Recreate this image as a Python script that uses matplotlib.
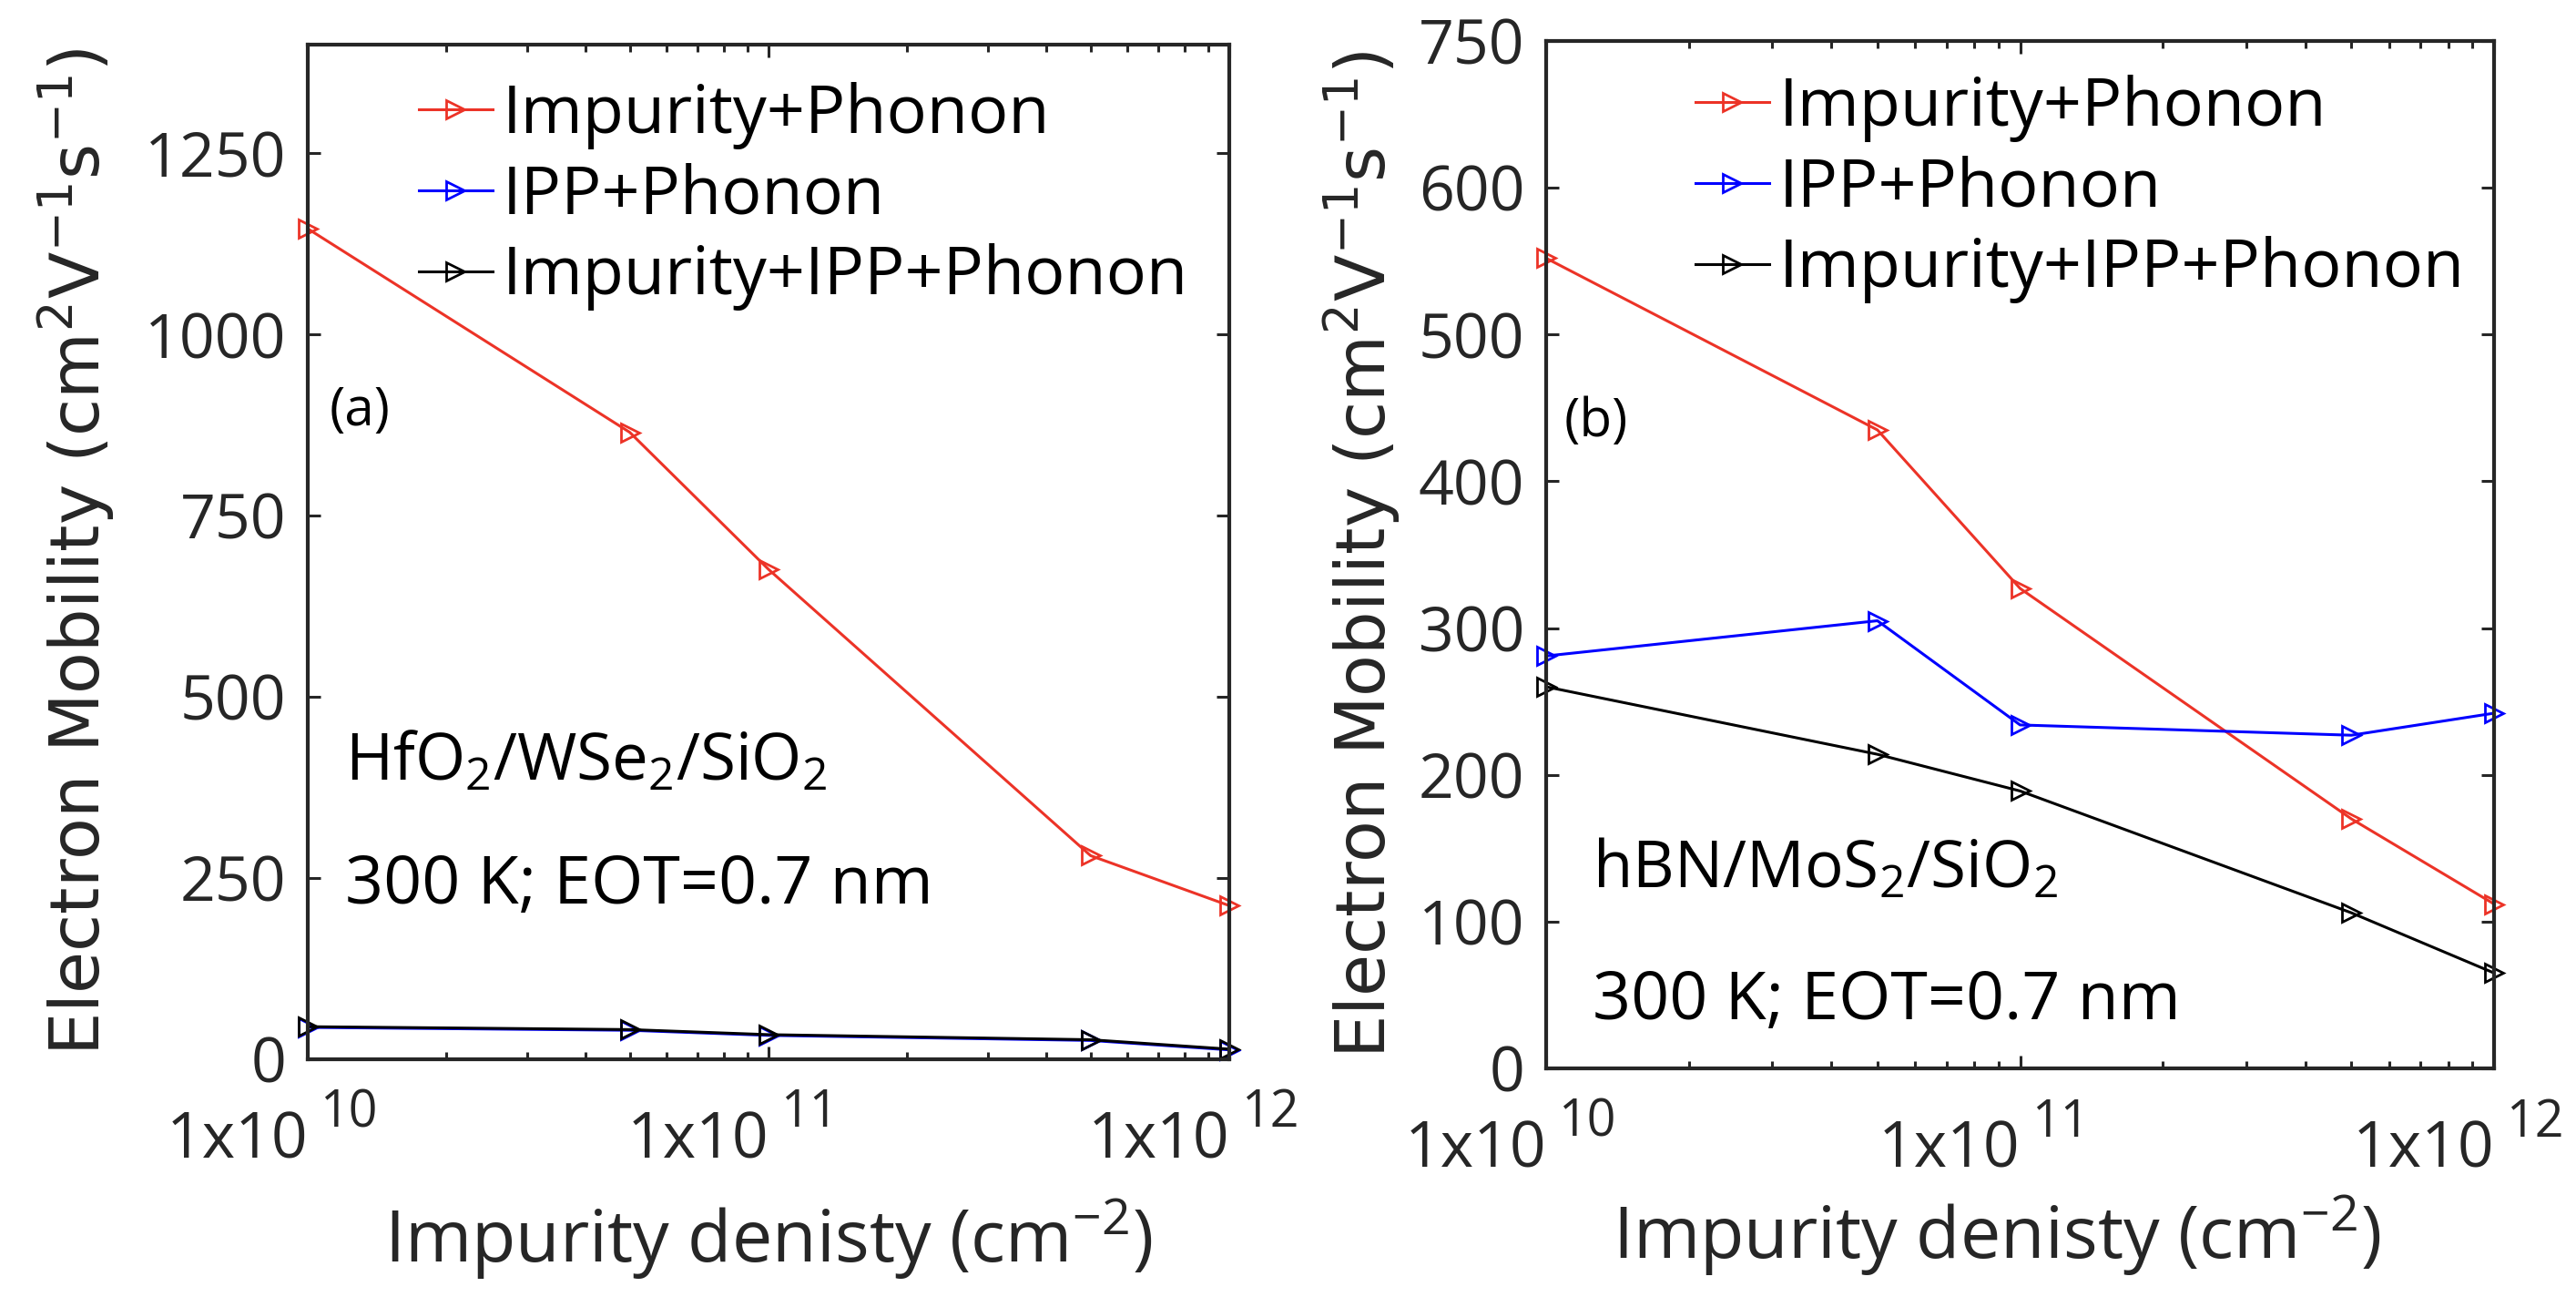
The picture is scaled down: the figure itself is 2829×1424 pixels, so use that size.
import matplotlib
matplotlib.use("Agg")
import matplotlib.pyplot as plt
from matplotlib.ticker import FixedLocator, LogLocator, NullFormatter
from matplotlib.transforms import ScaledTranslation, blended_transform_factory

plt.rcParams['font.family'] = ['Open Sans', 'DejaVu Sans']
plt.rcParams['mathtext.fontset'] = 'custom'
plt.rcParams['mathtext.rm'] = 'Open Sans'

# impurity density (cm^-2)
density = [1e10, 5e10, 1e11, 5e11, 1e12]

# (a) HfO2/WSe2/SiO2
imp_phon_a = [1146, 865, 676, 281, 212]
ipp_phon_a = [44, 40, 33, 26, 13]
all_a = [45, 41, 34, 27, 14]

# (b) hBN/MoS2/SiO2
imp_phon_b = [552, 435, 327, 170, 112]
ipp_phon_b = [281, 305, 234, 227, 242]
all_b = [260, 214, 189, 106, 65]

labels = ['Impurity+Phonon', 'IPP+Phonon', 'Impurity+IPP+Phonon']
colors = ['#ec3327', '#0000ff', '#000000']

yticks_a = [0, 250, 500, 750, 1000, 1250]
ytick_labels_a = ['0', '250', '500', '750', '1000', '1250']
yticks_b = [0, 100, 200, 300, 400, 500, 600, 700]
ytick_labels_b = ['0', '100', '200', '300', '400', '500', '600', '750']
xticks = [1e10, 1e11, 1e12]
xtick_exps = ['10', '11', '12']

W, H = 2829, 1424
fig = plt.figure(figsize=(W / 100, H / 100), dpi=100)

ax_a = fig.add_axes([338 / W, 1 - 1163 / H, 1012 / W, 1114 / H])
ax_b = fig.add_axes([1698 / W, 1 - 1173 / H, 1041 / W, 1128 / H])

gray = '#262626'


def setup(ax, series, ylim, yticks, ylabels, leg_xy, ylab_x, xlab_x, xlab_y, xtl_y):
    for vals, lab, c in zip(series, labels, colors):
        ax.plot(density, vals, color=c, lw=2.2, marker='>', ms=14,
                mfc='none', mew=2.0, label=lab, clip_on=False)
    ax.set_xscale('log')
    ax.set_xlim(1e10, 1e12)
    ax.set_ylim(*ylim)
    ax.yaxis.set_major_locator(FixedLocator(yticks))
    ax.set_yticklabels(ylabels)
    ax.xaxis.set_major_locator(FixedLocator(xticks))
    ax.set_xticklabels([])
    ax.xaxis.set_minor_locator(LogLocator(base=10, subs=range(2, 10)))
    ax.xaxis.set_minor_formatter(NullFormatter())
    for sp in ax.spines.values():
        sp.set_linewidth(3)
        sp.set_color(gray)
    ax.tick_params(which='both', direction='in', top=True, right=True,
                   color=gray, labelcolor=gray, width=2.2, labelsize=49)
    ax.tick_params(which='major', length=10)
    ax.tick_params(which='minor', length=6)
    ax.tick_params(axis='y', pad=17)

    # x tick labels as 1x10^n, base right-aligned on the tick
    trans = blended_transform_factory(ax.transData, ax.transAxes)
    sup = ScaledTranslation(0.13, 0.34, fig.dpi_scale_trans)
    for xt, ex in zip(xticks, xtick_exps):
        ax.text(xt, xtl_y, '1x10', transform=trans, ha='right', va='baseline',
                fontsize=50, color=gray, clip_on=False)
        ax.text(xt, xtl_y, ex, transform=trans + sup, ha='left', va='baseline',
                fontsize=40, color=gray, clip_on=False)

    ax.set_ylabel(r'Electron Mobility (cm$\mathregular{^2}$V$\mathregular{^{-1}}$s$\mathregular{^{-1}}$)',
                  family='DejaVu Sans', fontsize=54, color=gray)
    ax.yaxis.label.set_va('baseline')
    ax.yaxis.set_label_coords(ylab_x, 0.5)
    ax.set_xlabel(r'Impurity denisty (cm$\mathregular{^{-2}}$)', fontsize=57, color=gray)
    ax.xaxis.label.set_va('baseline')
    ax.xaxis.set_label_coords(xlab_x, xlab_y)

    ax.legend(loc='upper left', bbox_to_anchor=(leg_xy[0] / W, 1 - leg_xy[1] / H),
              bbox_transform=fig.transFigure, frameon=False, fontsize=53,
              borderpad=0, borderaxespad=0, handlelength=1.1,
              handletextpad=0.15, labelspacing=0.2)


setup(ax_a, [imp_phon_a, ipp_phon_a, all_a], (0, 1400), yticks_a, ytick_labels_a,
      (460, 90), -0.2253, 0.5, -0.2000, -0.097)
setup(ax_b, [imp_phon_b, ipp_phon_b, all_b], (0, 700), yticks_b, ytick_labels_b,
      (1862, 82), -0.169, 0.475, -0.185, -0.0966)

fig.text(362 / W, 1 - 452 / H, '(a)', fontsize=42, va='center')
fig.text(379 / W, 1 - 857 / H, r'HfO$\mathregular{_2}$/WSe$\mathregular{_2}$/SiO$\mathregular{_2}$',
         fontsize=51, va='baseline')
fig.text(379 / W, 1 - 992 / H, '300 K; EOT=0.7 nm', fontsize=53, va='baseline')

fig.text(1718 / W, 1 - 464 / H, '(b)', fontsize=42, va='center')
fig.text(1749 / W, 1 - 975 / H, r'hBN/MoS$\mathregular{_2}$/SiO$\mathregular{_2}$',
         fontsize=51, va='baseline')
fig.text(1749 / W, 1 - 1119 / H, '300 K; EOT=0.7 nm', fontsize=53, va='baseline')

fig.savefig('out.png', dpi=100)
